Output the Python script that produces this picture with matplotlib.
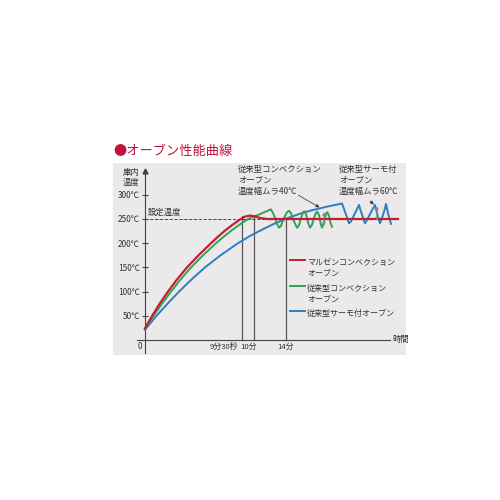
import matplotlib
matplotlib.use("Agg")
import matplotlib.pyplot as plt

plt.rcParams['font.family'] = ['Noto Sans CJK JP', 'DejaVu Sans']

# schematic time axis (minutes-ish) and oven temperature (degC)
red_t = [0, 0.35, 0.72, 1.5, 2.3, 3.2, 4.2, 5.35, 6.6, 7.3, 8.0, 8.75, 9.5,
         10.0, 10.5, 11.0, 11.5, 12.2, 25.3]
red_v = [24, 37, 50, 76, 100, 125, 150, 175, 200, 213.5, 226, 238, 249,
         255, 257, 255.5, 252, 250, 250]

green_t = [0, 0.4, 0.85, 1.7, 2.6, 3.55, 4.6, 5.8, 7.1, 7.9, 8.7, 9.5, 10.3,
           11.5, 12.6, 12.9, 13.2, 13.4, 13.6, 13.9, 14.2, 14.4, 14.6, 14.9,
           15.2, 15.4, 15.6, 15.8, 15.95, 16.1, 16.3, 16.5, 16.7, 16.9, 17.1,
           17.25, 17.4, 17.55, 17.7, 17.85, 18.0, 18.15, 18.25, 18.4, 18.55, 18.7]
green_v = [23, 36, 50, 75, 100, 125, 150, 175, 200, 214, 227, 239, 250,
           260, 270, 258, 240, 232, 236, 252, 264, 267, 262, 245,
           232, 237, 252, 264, 266, 260, 243, 232, 238, 252, 263,
           265, 258, 242, 232, 240, 254, 263, 264, 256, 242, 234]

blue_t = [0, 0.55, 1.15, 2.25, 3.4, 4.65, 6.0, 7.55, 9.3, 10.5, 11.8, 12.9, 14.0,
          15.5, 16.5, 17.5, 18.3, 19.0, 19.5, 19.7, 20.0, 20.4, 20.6, 21.0,
          21.4, 21.6, 22.0, 22.2, 22.6, 23.0, 23.2, 23.5, 23.7, 24.0, 24.1,
          24.3, 24.6]
blue_v = [21, 35, 50, 75, 100, 125, 150, 175, 200, 215, 229, 240, 250,
          261, 267, 272, 276, 279, 281, 282, 265, 241, 245, 262,
          279, 265, 241, 248, 264, 279, 262, 241, 252, 272, 281,
          262, 240]

set_temp = 250
y_ticks = [50, 100, 150, 200, 250, 300]
y_labels = ["50℃", "100℃", "150℃", "200℃", "250℃", "300℃"]

# marker lines: time, top of line, label, label x, alignment
mark_t = [9.7, 10.9, 14.1]
mark_top = [256, 256, 250]
mark_labels = ["9分30秒", "10分", "14分"]
mark_label_x = [9.35, 10.35, 14.1]
mark_ha = ["right", "center", "center"]

legend_names = ["マルゼンコンベクション\nオーブン", "従来型コンベクション\nオーブン", "従来型サーモ付オーブン"]
colors = ["#c3202f", "#33a05a", "#2d7fc4"]

fig = plt.figure(figsize=(5, 5), dpi=100)
fig.patch.set_facecolor("white")
ax = fig.add_axes([113 / 500, 0.29, 293 / 500, 192 / 500])
ax.set_facecolor("#ebe9e9")
ax.set_xlim(-3.2, 26.1)
ax.set_ylim(-31, 365.7)

for s in ("top", "right"):
    ax.spines[s].set_visible(False)
ax.spines["left"].set_position(("data", 0))
ax.spines["bottom"].set_position(("data", 0))
ax.spines["left"].set_bounds(-27, 348)
ax.spines["bottom"].set_bounds(-0.8, 24.5)
for s in ("left", "bottom"):
    ax.spines[s].set_color("#444444")
    ax.spines[s].set_linewidth(0.8)
ax.plot([0], [350], marker="^", color="#444444", markersize=3.5, clip_on=False)

ax.set_yticks(y_ticks)
ax.set_yticklabels(y_labels)
ax.tick_params(axis="y", direction="inout", length=5, width=0.8,
               color="#444444", labelsize=6, pad=1, labelcolor="#333333")
ax.set_xticks([])

# set temperature dashed line
ax.plot([0, 25.3], [set_temp, set_temp], color="#444444", lw=0.7,
        linestyle=(0, (3, 2)), zorder=2)
ax.text(0.3, 264, "設定温度", fontsize=6, va="center", color="#333333")

# vertical marker lines
for t, top, lab, lx, ha in zip(mark_t, mark_top, mark_labels, mark_label_x, mark_ha):
    ax.plot([t, t], [0, top], color="#555555", lw=0.9, zorder=1)
    ax.text(lx, -14, lab, fontsize=5.6, ha=ha, va="center", color="#333333")

ax.text(-0.3, -14, "0", fontsize=6, ha="right", va="center", color="#333333")
ax.text(24.7, 0, "時間", fontsize=6, ha="left", va="center", color="#333333")
ax.text(-1.4, 336, "庫内\n温度", fontsize=6, ha="center", va="center",
        color="#333333", linespacing=1.2)

# curves
ax.plot(blue_t, blue_v, color=colors[2], lw=1.4, zorder=3, solid_joinstyle="round")
ax.plot(green_t, green_v, color=colors[1], lw=1.4, zorder=3, solid_joinstyle="round")
ax.plot(red_t, red_v, color=colors[0], lw=1.6, zorder=4, solid_joinstyle="round")
ax.plot([0, 25.3], [set_temp, set_temp], color="#444444", lw=0.6,
        linestyle=(0, (3, 2)), alpha=0.35, zorder=5)

# legend (drawn by hand to match layout)
leg_y = [165, 111, 60]
for name, c, y in zip(legend_names, colors, leg_y):
    ax.plot([14.5, 16.0], [y, y], color=c, lw=1.4)
    ax.text(16.2, y + 5, name, fontsize=5.8, va="top", color="#333333",
            linespacing=1.35)

# annotations
ax.text(9.3, 362, "従来型コンベクション\nオーブン\n温度幅ムラ40℃", fontsize=6,
        va="top", ha="left", color="#333333", linespacing=1.3)
ax.text(19.4, 362, "従来型サーモ付\nオーブン\n温度幅ムラ60℃", fontsize=6,
        va="top", ha="left", color="#333333", linespacing=1.3)
ax.annotate("", xy=(17.7, 271), xytext=(15.1, 302),
            arrowprops=dict(arrowstyle="-|>", color="#444444", lw=0.6,
                            mutation_scale=5))
ax.annotate("", xy=(23.1, 276), xytext=(22.3, 291),
            arrowprops=dict(arrowstyle="-|>", color="#444444", lw=0.6,
                            mutation_scale=5))
ax.annotate("", xy=(17.9, 270), xytext=(17.9, 230),
            arrowprops=dict(arrowstyle="<|-|>", color="#888888", lw=0.8,
                            mutation_scale=4), zorder=6)
ax.annotate("", xy=(23.2, 282), xytext=(23.2, 241),
            arrowprops=dict(arrowstyle="<|-|>", color="#888888", lw=0.8,
                            mutation_scale=4), zorder=6)

fig.text(113 / 500, 1 - 151 / 500, "●オーブン性能曲線", color="#c0143c",
         fontsize=9.5, va="center", ha="left")

fig.savefig("out.png", dpi=100, facecolor="white")
